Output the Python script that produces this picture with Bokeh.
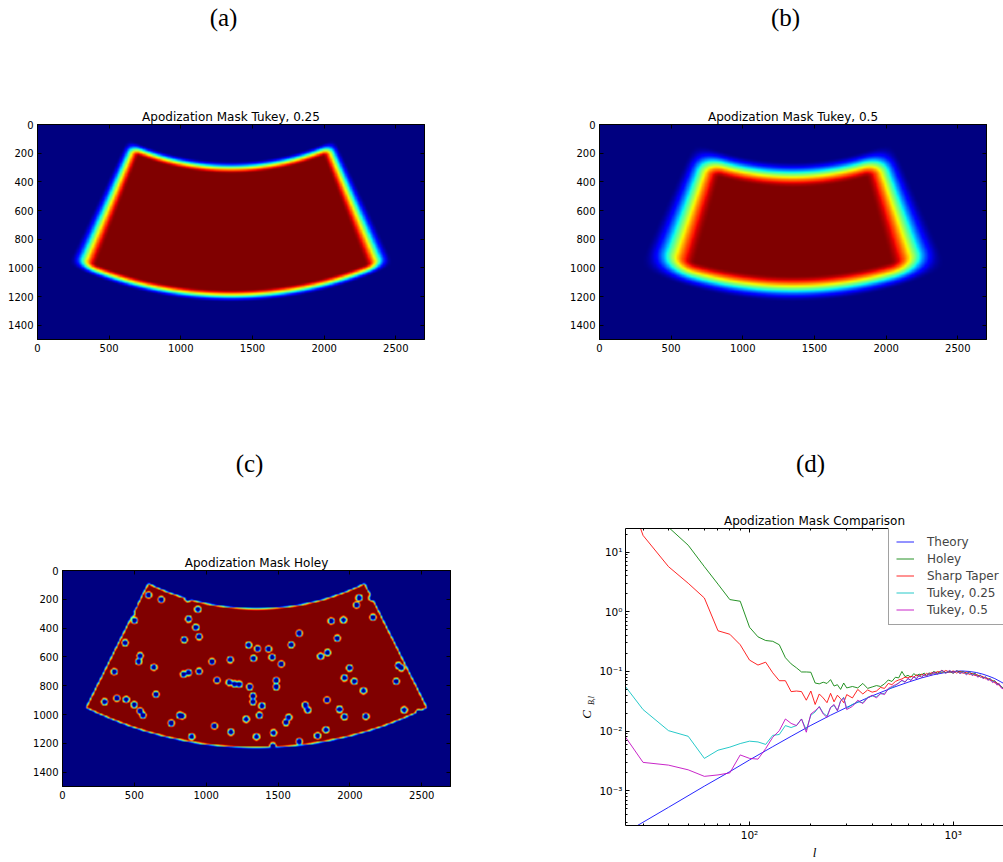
import numpy as np
from bokeh.plotting import figure
from bokeh.models import (Range1d, LinearColorMapper, FixedTicker, LinearAxis, LogAxis, Title, Label,
                          Legend, LegendItem, CustomJSTickFormatter, Spacer)
from bokeh.layouts import row, column
from bokeh.embed import file_html
from bokeh.resources import INLINE

# ---------------- data ----------------
PANEL_LABELS = ["(a)", "(b)", "(c)", "(d)"]
IMAGE_TITLES = ["Apodization Mask Tukey, 0.25", "Apodization Mask Tukey, 0.5", "Apodization Mask Holey"]
COMPARISON_TITLE = "Apodization Mask Comparison"
IMG_X_TICKS = [0, 500, 1000, 1500, 2000, 2500]
IMG_Y_TICKS = [0, 200, 400, 600, 800, 1000, 1200, 1400]
IMG_WIDTH = 2700
IMG_HEIGHT = 1500

# sky patch (annular sector) geometry, in image pixels
PATCH_CENTER_X = 1350
PATCH_CENTER_Y = -1439
PATCH_R_INNER = 1694
PATCH_R_OUTER = 2679
PATCH_HALF_ANGLE = 26.6  # degrees

# tapers: [radial start, radial width (px), angular start (deg), angular width (deg)]
TUKEY_025_TAPER = [0, 90, 1.2, 4.3]
TUKEY_05_TAPER = [0, 190, 2.4, 8.6]
HOLEY_EDGE_TAPER = 22
HOLE_INNER_RADIUS = 10
HOLE_TAPER = 22

HOLE_X = [599, 687, 873, 942, 501, 877, 928, 951, 847, 436,
          541, 530, 636, 360, 951, 842, 877, 1040, 1167, 1075,
          1160, 1197, 1230, 1295, 1357, 1329, 1434, 1459, 1522, 1592,
          1647, 1303, 1487, 1487, 1325, 1325, 1388, 1371, 1278, 1058,
          1172, 1350, 1469, 1464, 1555, 1575, 1647, 1690, 1707, 1775,
          1833, 1840, 1928, 1961, 2111, 1961, 2030, 2095, 1997, 1796,
          1844, 1912, 1870, 1955, 2064, 2047, 2153, 2160, 2338, 2358,
          2322, 2378, 2479, 292, 379, 443, 499, 541, 560, 815,
          833, 757, 900, 650, 500, 480, 2140]
HOLE_Y = [170, 202, 195, 270, 346, 337, 395, 460, 481, 502,
          592, 632, 672, 703, 700, 720, 709, 632, 620, 762,
          778, 788, 790, 518, 543, 610, 545, 602, 650, 516,
          436, 808, 763, 808, 872, 912, 940, 1005, 1033, 1080,
          1122, 1155, 1127, 1218, 1055, 1020, 1188, 935, 968, 1148,
          1106, 900, 964, 1016, 1013, 746, 770, 835, 677, 595,
          570, 470, 350, 343, 190, 240, 190, 325, 660, 676,
          770, 968, 987, 912, 887, 896, 932, 975, 1005, 1005,
          1010, 1060, 1155, 860, 240, 300, 120]

# panel (d): power spectra
ELL_LOW = [20, 30, 40, 50, 60, 70, 80, 90, 100, 110, 120, 130, 140, 150, 160,
           170, 180, 190, 200, 210, 220, 230, 240, 250, 260, 270, 280, 290, 300]
ELL_HIGH = [320, 340, 360, 380, 400, 420, 440, 460, 480, 500, 520, 540, 560, 580, 600,
            620, 640, 660, 680, 700, 720, 740, 760, 780, 800,
            840, 880, 920, 960, 1000, 1040, 1080, 1120, 1160, 1200, 1240, 1280, 1320, 1360,
            1400, 1440, 1480, 1520, 1560, 1600, 1640, 1680, 1720, 1760, 1800, 1840, 1880]

HOLEY_LOW = [250, 70, 26, 13, 5.7, 2.9, 1.6, 1.5, 0.55, 0.38, 0.33, 0.32, 0.28, 0.17, 0.134,
             0.115, 0.098, 0.098, 0.097, 0.064, 0.062, 0.066, 0.063, 0.073, 0.057, 0.06, 0.05, 0.064, 0.053]
HOLEY_HIGH = [0.056, 0.053, 0.063, 0.052, 0.055, 0.058, 0.056, 0.062, 0.072, 0.068, 0.08, 0.078, 0.1,
              0.082, 0.086, 0.08, 0.092, 0.085, 0.09, 0.088, 0.094, 0.086, 0.095, 0.09, 0.1,
              0.094, 0.104, 0.096, 0.1, 0.093, 0.103, 0.097, 0.1, 0.092, 0.098, 0.09, 0.093, 0.084,
              0.087, 0.078, 0.081, 0.074, 0.076, 0.069, 0.07, 0.063, 0.061, 0.056, 0.053, 0.05, 0.048, 0.045]

SHARP_LOW = [900, 19, 5.7, 3.0, 1.7, 0.48, 0.42, 0.28, 0.155, 0.128, 0.143, 0.095, 0.07, 0.07, 0.046,
             0.047, 0.046, 0.033, 0.047, 0.028, 0.042, 0.036, 0.03, 0.043, 0.031, 0.04, 0.035, 0.03, 0.041]
SHARP_HIGH = [0.036, 0.05, 0.042, 0.049, 0.045, 0.047, 0.054, 0.052, 0.063, 0.06, 0.068, 0.072, 0.075,
              0.08, 0.078, 0.083, 0.08, 0.088, 0.082, 0.09, 0.085, 0.093, 0.088, 0.096, 0.092,
              0.1, 0.095, 0.104, 0.097, 0.102, 0.094, 0.1, 0.093, 0.097, 0.089, 0.093, 0.085, 0.088,
              0.08, 0.083, 0.075, 0.077, 0.07, 0.071, 0.064, 0.065, 0.058, 0.056, 0.051, 0.049, 0.045, 0.043]

TUKEY025_LOW = [0.14, 0.023, 0.0102, 0.0082, 0.0035, 0.0048, 0.0054, 0.0062, 0.0068, 0.0066, 0.006,
                0.0085, 0.0088, 0.0124, 0.0115, 0.0124, 0.016, 0.0105, 0.0185, 0.021, 0.026, 0.02,
                0.018, 0.025, 0.027, 0.022, 0.032, 0.037, 0.024]
TUKEY025_HIGH = [0.028, 0.031, 0.03, 0.037, 0.039, 0.038, 0.042, 0.043, 0.05, 0.054, 0.058, 0.065, 0.07,
                 0.067, 0.075, 0.072, 0.08, 0.077, 0.085, 0.081, 0.088, 0.084, 0.091, 0.087, 0.095,
                 0.091, 0.099, 0.094, 0.103, 0.096, 0.1, 0.093, 0.098, 0.09, 0.095, 0.087, 0.09, 0.082,
                 0.085, 0.077, 0.08, 0.072, 0.074, 0.067, 0.068, 0.061, 0.062, 0.055, 0.052, 0.049, 0.046, 0.043]

TUKEY05_LOW = [0.022, 0.003, 0.0027, 0.00225, 0.00175, 0.00185, 0.002, 0.004, 0.0035, 0.0034, 0.0051,
               0.0079, 0.0102, 0.016, 0.0135, 0.0124, 0.016, 0.0096, 0.0194, 0.022, 0.0255, 0.0194,
               0.017, 0.025, 0.028, 0.022, 0.032, 0.036, 0.023]
TUKEY05_HIGH = [0.026, 0.033, 0.029, 0.036, 0.04, 0.036, 0.043, 0.041, 0.052, 0.056, 0.06, 0.063, 0.072,
                0.066, 0.077, 0.07, 0.082, 0.075, 0.087, 0.079, 0.09, 0.082, 0.093, 0.086, 0.098,
                0.09, 0.105, 0.093, 0.104, 0.094, 0.103, 0.092, 0.099, 0.088, 0.096, 0.085, 0.091, 0.08,
                0.086, 0.076, 0.081, 0.071, 0.075, 0.065, 0.069, 0.059, 0.063, 0.053, 0.051, 0.046, 0.044, 0.041]

ELL_THEORY = [25, 28, 40, 60, 80, 100, 130, 160, 200, 250, 300, 350, 400, 500, 600, 700, 800, 900,
              1000, 1100, 1200, 1300, 1400, 1500, 1600, 1700, 1800, 2000]
CL_THEORY = [2.1e-4, 2.6e-4, 5.3e-4, 1.2e-3, 2.1e-3, 3.3e-3, 5.5e-3, 8.2e-3, 1.25e-2, 1.85e-2, 2.5e-2,
             3.2e-2, 3.9e-2, 5.3e-2, 6.6e-2, 7.8e-2, 8.8e-2, 9.5e-2, 1.0e-1, 1.02e-1, 1.0e-1, 9.6e-2,
             9.0e-2, 8.3e-2, 7.6e-2, 6.8e-2, 6.1e-2, 5.0e-2]

SERIES_NAMES = ["Theory", "Holey", "Sharp Taper", "Tukey, 0.25", "Tukey, 0.5"]
SERIES_COLORS = ["#0000ff", "#008000", "#ff0000", "#00bfbf", "#bf00bf"]
Y_LABEL_MAIN = "C"
Y_LABEL_SUB = "B,l"
X_LABEL = "l"

# ---------------- helpers ----------------
def jet_palette(n=256):
    t = np.linspace(0, 1, n)
    r = np.interp(t, [0, 0.35, 0.66, 0.89, 1], [0, 0, 1, 1, 0.5])
    g = np.interp(t, [0, 0.125, 0.375, 0.64, 0.91, 1], [0, 0, 1, 1, 0, 0])
    b = np.interp(t, [0, 0.11, 0.34, 0.65, 1], [0.5, 1, 1, 0, 0])
    return ["#%02x%02x%02x" % (int(round(a * 255)), int(round(c * 255)), int(round(d * 255)))
            for a, c, d in zip(r, g, b)]

JET = jet_palette()
CELL = 5
SUB = 2  # supersampling factor per cell
fine = CELL / SUB
gx = np.arange(fine / 2, IMG_WIDTH, fine)
gy = np.arange(fine / 2, IMG_HEIGHT, fine)
GX, GY = np.meshgrid(gx, gy)
DX = GX - PATCH_CENTER_X
DY = GY - PATCH_CENTER_Y
RAD = np.hypot(DX, DY)
ANG = np.degrees(np.arctan2(np.abs(DX), DY))


def ramp(d, start, width):
    t = np.clip((d - start) / width, 0, 1)
    return 0.5 * (1 - np.cos(np.pi * t))


def pool(m):
    ny, nx = m.shape
    return m.reshape(ny // SUB, SUB, nx // SUB, SUB).mean(axis=(1, 3))


def tukey_mask(taper):
    rs, rw, a_s, aw = taper
    m = (ramp(RAD - PATCH_R_INNER, rs, rw) * ramp(PATCH_R_OUTER - RAD, rs, rw)
         * ramp(PATCH_HALF_ANGLE - ANG, a_s, aw))
    return pool(m)


def holey_mask():
    edge = RAD * np.radians(PATCH_HALF_ANGLE - ANG)
    m = (ramp(RAD - PATCH_R_INNER, 0, HOLEY_EDGE_TAPER) * ramp(PATCH_R_OUTER - RAD, 0, HOLEY_EDGE_TAPER)
         * ramp(edge, 0, HOLEY_EDGE_TAPER))
    for hx, hy in zip(HOLE_X, HOLE_Y):
        m = m * ramp(np.hypot(GX - hx, GY - hy), HOLE_INNER_RADIUS, HOLE_TAPER)
    return pool(m)


FONT = "DejaVu Sans"
SERIF = "Liberation Serif"


def style_axis(ax, labels, size="10px", standoff=4):
    ax.major_tick_in = 4
    ax.major_tick_out = 0
    ax.axis_line_color = "black"
    ax.major_tick_line_color = "black"
    ax.major_label_text_font = FONT
    if labels:
        ax.major_label_text_color = "black"
        ax.major_label_text_font_size = size
        ax.major_label_standoff = standoff
    else:
        ax.major_label_text_color = None
        ax.major_label_text_font_size = "1px"
        ax.major_label_standoff = 0


def add_title(p, title):
    p.add_layout(Title(text=title, align="center", text_font=FONT, text_font_size="12px",
                       text_font_style="normal", text_color="black", standoff=2), "above")


def text_strip(width, height, x0, y0):
    """A blank figure whose data coordinates are page pixels, to hold free text."""
    s = figure(width=width, height=height, x_range=Range1d(x0, x0 + width), y_range=Range1d(y0 + height, y0),
               output_backend="svg", toolbar_location=None, x_axis_location=None, y_axis_location=None,
               title=None, min_border=0, min_border_left=0, min_border_right=0, min_border_top=0,
               min_border_bottom=0, background_fill_color="white", border_fill_color="white")
    s.grid.visible = False
    s.outline_line_color = None
    return s


def letter(s, text, x, y):
    s.add_layout(Label(x=x, y=y, text=text, text_font=SERIF, text_font_size="25px", text_color="black",
                       text_align="center", text_baseline="middle"))


def image_panel(width, height, bl, br, bt, bb, title, mask):
    p = figure(width=width, height=height, x_range=Range1d(0, IMG_WIDTH), y_range=Range1d(IMG_HEIGHT, 0),
               output_backend="svg", toolbar_location=None, x_axis_location=None, y_axis_location=None,
               title=None,
               min_border_left=bl, min_border_right=br, min_border_top=bt, min_border_bottom=bb,
               background_fill_color="white", border_fill_color="white")
    p.grid.visible = False
    p.outline_line_color = "black"
    cmap = LinearColorMapper(palette=JET, low=0, high=1)
    p.image(image=[mask.astype(np.float32)], x=0, y=0, dw=IMG_WIDTH, dh=IMG_HEIGHT, color_mapper=cmap)
    bottom = LinearAxis(ticker=FixedTicker(ticks=IMG_X_TICKS))
    left = LinearAxis(ticker=FixedTicker(ticks=IMG_Y_TICKS))
    top = LinearAxis(ticker=FixedTicker(ticks=IMG_X_TICKS))
    right = LinearAxis(ticker=FixedTicker(ticks=IMG_Y_TICKS))
    for ax, lab in ((bottom, True), (left, True), (top, False), (right, False)):
        style_axis(ax, lab)
        ax.minor_tick_line_color = None
    p.add_layout(bottom, "below")
    p.add_layout(left, "left")
    p.add_layout(top, "above")
    p.add_layout(right, "right")
    add_title(p, title)
    return p


# ---- strip with panel letters (a), (b): page y 0..40
strip1 = text_strip(1003, 40, 0, 0)
letter(strip1, PANEL_LABELS[0], 223, 17)
letter(strip1, PANEL_LABELS[1], 785, 17)

# ---- row 1: page y 40..440
fa = image_panel(560, 400, 37, 136, 84, 101, IMAGE_TITLES[0], tukey_mask(TUKEY_025_TAPER))
fb = image_panel(443, 400, 39, 17, 84, 101, IMAGE_TITLES[1], tukey_mask(TUKEY_05_TAPER))

# ---- strip with panel letters (c), (d): page y 440..485
strip2 = text_strip(1003, 45, 0, 440)
letter(strip2, PANEL_LABELS[2], 249, 463)
letter(strip2, PANEL_LABELS[3], 810, 463)

# ---- row 2: page y 485..862
fc = image_panel(560, 377, 62, 110, 85, 76, IMAGE_TITLES[2], holey_mask())

ystrip = text_strip(36, 377, 560, 485)
ystrip.add_layout(Label(x=586, y=714, text=Y_LABEL_MAIN, text_font=SERIF, text_font_style="italic",
                        text_font_size="13px", angle=np.pi / 2, text_align="center", text_baseline="middle",
                        text_color="black"))
ystrip.add_layout(Label(x=590.5, y=700, text=Y_LABEL_SUB, text_font=SERIF, text_font_style="italic",
                        text_font_size="8px", angle=np.pi / 2, text_align="center", text_baseline="middle",
                        text_color="black"))

DX0, DX1 = 24.6, 1766.0
DY0, DY1 = 2.63e-4, 24.8

fd = figure(width=407, height=377, x_axis_type="log", y_axis_type="log",
            x_range=Range1d(DX0, DX1), y_range=Range1d(DY0, DY1), title=None,
            output_backend="svg", toolbar_location=None, x_axis_location=None, y_axis_location=None,
            min_border_left=25, min_border_right=0, min_border_top=43, min_border_bottom=32,
            background_fill_color="white", border_fill_color="white")
fd.grid.visible = False
fd.outline_line_color = None

ell_data = ELL_LOW + ELL_HIGH
series = [(ELL_THEORY, CL_THEORY), (ell_data, HOLEY_LOW + HOLEY_HIGH), (ell_data, SHARP_LOW + SHARP_HIGH),
          (ell_data, TUKEY025_LOW + TUKEY025_HIGH), (ell_data, TUKEY05_LOW + TUKEY05_HIGH)]
items = []
for (xs, ys), name, col in zip(series, SERIES_NAMES, SERIES_COLORS):
    r = fd.line(x=xs, y=ys, line_color=col, line_width=1, line_alpha=0.85)
    items.append(LegendItem(label=name, renderers=[r]))

X_MAJ = [100, 1000]
X_MIN = [m * 10 ** e for e in (1, 2, 3) for m in range(2, 10)]
Y_MAJ = [1e-3, 1e-2, 1e-1, 1, 10]
Y_MIN = [m * 10.0 ** e for e in (-4, -3, -2, -1, 0, 1) for m in range(2, 10)]

sup_js = """
const sup = {"-": "\u207b", "0": "\u2070", "1": "\u00b9", "2": "\u00b2", "3": "\u00b3",
             "4": "\u2074", "5": "\u2075", "6": "\u2076", "7": "\u2077", "8": "\u2078", "9": "\u2079"};
const e = Math.round(Math.log10(tick));
return "10" + String(e).split("").map(c => sup[c]).join("");
"""
d_bottom = LogAxis(ticker=FixedTicker(ticks=X_MAJ, minor_ticks=X_MIN), formatter=CustomJSTickFormatter(code=sup_js))
d_left = LogAxis(ticker=FixedTicker(ticks=Y_MAJ, minor_ticks=Y_MIN), formatter=CustomJSTickFormatter(code=sup_js))
d_top = LogAxis(ticker=FixedTicker(ticks=X_MAJ, minor_ticks=X_MIN))
for ax, lab in ((d_bottom, True), (d_left, True), (d_top, False)):
    style_axis(ax, lab, "10.5px", 3)
    ax.minor_tick_in = 2
    ax.minor_tick_out = 0
    ax.minor_tick_line_color = "black"
d_bottom.axis_label = X_LABEL
d_bottom.axis_label_text_font = SERIF
d_bottom.axis_label_text_font_style = "italic"
d_bottom.axis_label_text_font_size = "13px"
d_bottom.axis_label_text_color = "black"
d_bottom.axis_label_standoff = 1
fd.add_layout(d_bottom, "below")
fd.add_layout(d_left, "left")
fd.add_layout(d_top, "above")
add_title(fd, COMPARISON_TITLE)

legend = Legend(items=items, location=(263, 200), label_text_font=FONT, label_text_font_size="12px",
                glyph_width=18, glyph_height=15, label_standoff=13, spacing=2, padding=7,
                border_line_color="#444444", border_line_width=1.2, background_fill_color="white",
                background_fill_alpha=1.0, margin=0)
fd.add_layout(legend)

layout = column(
    column(strip1),
    row(fa, fb),
    column(strip2),
    row(column(fc), column(ystrip), column(Spacer(width=0, height=0), fd)),
)
open("out.html", "w").write(file_html(layout, INLINE))
